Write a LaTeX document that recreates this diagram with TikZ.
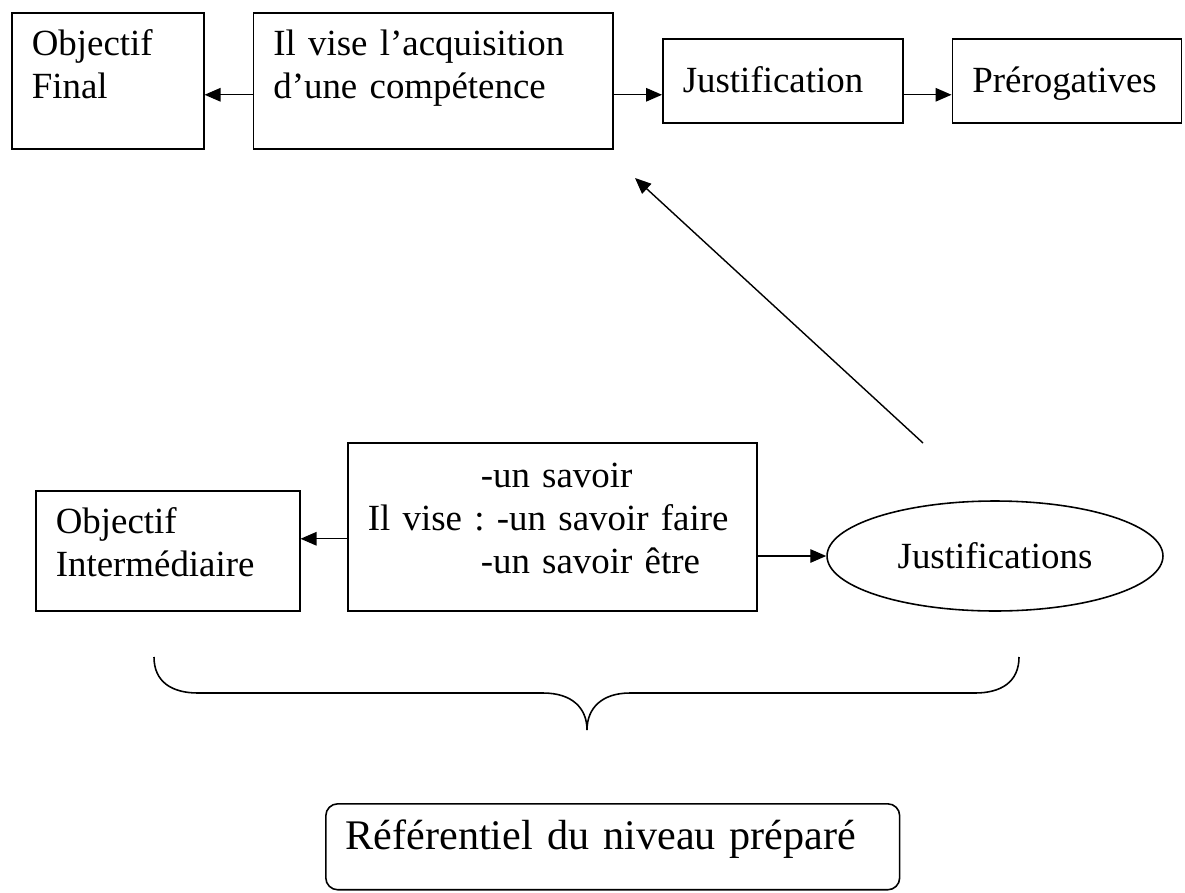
\documentclass[tikz,border=0pt]{standalone}
\usepackage{fontspec}
\setmainfont{Liberation Serif}
\usetikzlibrary{arrows.meta, positioning, shapes.geometric}
\frenchspacing

\newcommand{\boxfont}{\fontsize{21}{24.5}\selectfont}
\newcommand{\reffont}{\fontsize{24}{28}\selectfont}

\begin{document}
\begin{tikzpicture}[
    x=0.02cm, y=-0.02cm,
    >={Triangle[length=0.32cm, width=0.27cm]},
    box/.style={draw, line width=0.9pt, align=left, inner xsep=0.4cm,
                inner ysep=0pt, font=\boxfont},
    oval/.style={draw, ellipse, line width=0.9pt, inner sep=0pt,
                 font=\boxfont},
    arr/.style={->, line width=0.8pt}
  ]
  \useasboundingbox (0,0) rectangle (1185,892);

  % top row
  \node[box, anchor=north west, text width=3.04cm,
        text height=0.86cm, text depth=1.86cm] (final) at (11,12)
        {Objectif\\Final};
  \node[box, right=0.96cm of final, text width=6.4cm,
        text height=0.86cm, text depth=1.86cm] (acq)
        {Il vise l’acquisition\\d’une compétence};
  \node[box, right=0.96cm of acq, text width=4.0cm,
        text height=1.08cm, text depth=0.6cm] (just) {Justification};
  \node[box, right=0.96cm of just, text width=3.78cm,
        text height=1.08cm, text depth=0.6cm] (prer) {Prérogatives};

  \draw[arr] ([yshift=-0.28cm]acq.west) -- ([yshift=-0.28cm]acq.west -| final.east);
  \draw[arr] ([yshift=-0.28cm]acq.east) -- ([yshift=-0.28cm]acq.east -| just.west);
  \draw[arr] ([yshift=-0.28cm]acq.east -| just.east) -- ([yshift=-0.28cm]acq.east -| prer.west);

  % bottom row
  \node[box, anchor=north west, text width=4.48cm,
        text height=0.86cm, text depth=1.54cm] (inter) at (35,490)
        {Objectif\\Intermédiaire};
  \node[box, anchor=north west, text width=7.38cm,
        text height=0.9cm, text depth=2.46cm] (vise) at (347,442)
        {\hspace*{2.26cm}-un savoir\\
         Il vise : -un savoir faire\\
         \hspace*{2.26cm}-un savoir être};
  \node[oval, minimum width=6.72cm, minimum height=2.2cm] (justs) at (995,556)
        {Justifications};

  \draw[arr] ([yshift=-0.24cm]vise.west) -- ([yshift=-0.24cm]vise.west -| inter.east);
  \draw[arr] (vise.east |- justs.west) -- (justs.west);

  % long arrow up to the top row
  \coordinate (up tail) at (923,443);
  \coordinate (up tip) at (635,178);
  \draw[arr] (up tail) -- (up tip);

  % brace under the bottom row
  \coordinate (brace tip) at (587,730);
  \draw[line width=0.9pt] (154,657) .. controls (154,682) and (172,693) .. (198,693)
    -- (543,693) .. controls (572,693) and (587,708) .. (brace tip)
    .. controls (587,708) and (602,693) .. (630,693)
    -- (975,693) .. controls (1001,693) and (1019,682) .. (1019,657);

  \node[box, rounded corners=0.24cm, anchor=north west, font=\reffont,
        text width=10.68cm, text height=0.92cm, text depth=0.8cm] (ref)
        at (325,803) {Référentiel du niveau préparé};
\end{tikzpicture}
\end{document}
